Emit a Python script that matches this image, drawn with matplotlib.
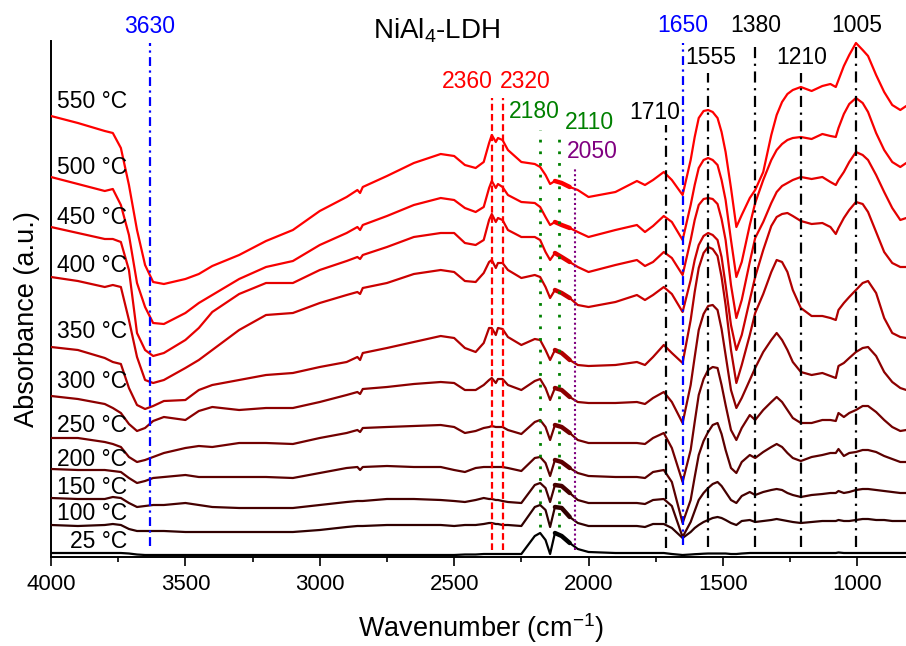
import numpy as np
import matplotlib
matplotlib.use('Agg')
import matplotlib.pyplot as plt

plt.rcParams['font.family'] = ['Liberation Sans', 'DejaVu Sans']
plt.rcParams['mathtext.fontset'] = 'custom'
plt.rcParams['mathtext.rm'] = 'Liberation Sans'
plt.rcParams['mathtext.it'] = 'Liberation Sans:italic'
plt.rcParams['mathtext.bf'] = 'Liberation Sans:bold'

# ---------------- data ----------------
wavenumber = [4000, 3900, 3800, 3770, 3740, 3710, 3680, 3650, 3620, 3580, 3500, 3450, 3400, 3300, 3200,
              3100, 3000, 2900, 2860, 2850, 2840, 2750, 2650, 2550, 2500, 2460, 2420,
              2390, 2370, 2360, 2345, 2337, 2320, 2300, 2250, 2200, 2180, 2160, 2143, 2125, 2100, 2070, 2040, 2000, 1900,
              1820, 1790, 1760, 1720, 1690, 1650, 1620, 1605, 1590, 1572, 1555, 1538, 1520, 1505, 1490, 1470, 1450, 1430, 1400, 1380,
              1350, 1320, 1300, 1280, 1260, 1240, 1210, 1170, 1130, 1100, 1080, 1070, 1050, 1030, 1005, 980, 960, 930, 900, 870, 840, 818]

temperatures = ['25 °C', '100 °C', '150 °C', '200 °C', '250 °C', '300 °C',
                '350 °C', '400 °C', '450 °C', '500 °C', '550 °C']

abs_25 = [4, 4, 4, 4, 4, 3.5, 2.5, 2, 2, 2, 2, 2, 2, 2, 2,
          2, 2, 2, 2, 2, 2, 2, 2, 2, 2, 2.5, 2.5,
          3, 3, 3, 3, 3, 3, 3, 3, 21, 24, 17, 3, 24, 21, 14, 8, 5, 4,
          4, 4, 4, 4, 3, 2, 2.5, 2.8, 3, 3.3, 3.5, 3.5, 3.5, 3.5, 3.5, 3, 3, 3.5, 4, 4,
          4, 4, 4, 4, 4, 4, 4, 4, 4, 4, 4, 4.5, 4, 4, 4, 4, 4, 4, 4, 4, 4, 4]
abs_100 = [32, 31, 32, 33, 32, 28, 26, 26, 26, 26, 25, 25, 25, 25, 25,
           25, 27, 30, 31, 31, 31, 32, 32, 32, 31, 32, 32,
           33, 34, 34, 33, 33, 32, 32, 31, 50, 52, 47, 30, 50, 49, 40, 34, 31, 31,
           31, 30, 33, 33, 29, 19, 25, 29, 32, 35, 37, 39, 40, 39, 37, 34, 32, 36, 37, 35,
           36, 37, 38, 37, 36, 35, 34, 35, 36, 36, 36, 37, 36, 36, 37, 38, 38, 37, 37, 36, 36, 36]
abs_150 = [59, 58, 58, 60, 59, 54, 50, 51, 52, 52, 54, 52, 50, 49, 49,
           49, 52, 55, 56, 56, 56, 58, 58, 57, 56, 55, 57,
           59, 58, 58, 57, 57, 56, 55, 54, 72, 74, 69, 55, 72, 71, 64, 57, 54, 54,
           54, 53, 57, 58, 51, 20, 35, 46, 57, 64, 69, 73, 75, 71, 65, 57, 54, 61, 65, 62,
           65, 67, 68, 67, 64, 62, 60, 62, 63, 64, 64, 66, 64, 65, 67, 68, 68, 67, 66, 65, 64, 64]
abs_200 = [88, 87, 87, 86, 85, 79, 74, 76, 79, 80, 82, 80, 80, 80, 80,
           79, 84, 89, 90, 87, 90, 91, 90, 90, 87, 85, 89,
           90, 90, 90, 90, 90, 90, 89, 86, 99, 100, 94, 81, 97, 95, 89, 84, 81, 80,
           80, 79, 85, 87, 75, 34, 57, 80, 102, 116, 125, 132, 134, 123, 107, 89, 84, 95, 102, 99,
           105, 110, 113, 110, 104, 99, 96, 100, 102, 104, 104, 108, 101, 104, 105, 107, 107, 105, 101, 98, 95, 95]
abs_250 = [119, 119, 115, 113, 110, 100, 95, 97, 100, 104, 109, 111, 110, 114, 114,
           113, 119, 124, 127, 125, 129, 130, 131, 132, 130, 124, 126,
           129, 130, 131, 130, 130, 130, 127, 123, 135, 137, 130, 117, 132, 130, 124, 117, 114, 114,
           114, 113, 119, 124, 109, 75, 107, 135, 162, 178, 187, 190, 189, 172, 152, 127, 117, 129, 142, 137,
           147, 155, 160, 155, 147, 139, 134, 134, 137, 137, 136, 144, 140, 144, 147, 151, 151, 145, 137, 130, 126, 127]
abs_300 = [161, 158, 153, 149, 144, 133, 126, 129, 136, 140, 137, 146, 150, 147, 149,
           149, 155, 162, 165, 163, 168, 170, 173, 175, 174, 167, 167,
           172, 177, 179, 174, 178, 178, 172, 167, 176, 178, 169, 157, 169, 167, 160, 155, 154, 154,
           155, 153, 159, 165, 155, 134, 172, 200, 227, 243, 251, 252, 247, 228, 202, 167, 149, 159, 177, 189,
           205, 217, 224, 217, 207, 195, 185, 182, 184, 181, 179, 191, 194, 199, 205, 209, 210, 201, 185, 175, 169, 167]
abs_350 = [210, 207, 199, 195, 193, 169, 152, 148, 151, 156, 157, 167, 172, 177, 182,
           184, 190, 195, 200, 197, 204, 209, 215, 221, 219, 209, 205,
           214, 229, 229, 222, 229, 228, 220, 212, 218, 217, 207, 197, 207, 204, 197, 192, 191, 192,
           195, 192, 200, 212, 204, 194, 237, 265, 289, 304, 310, 308, 301, 280, 252, 207, 174, 192, 222, 244,
           263, 285, 297, 295, 285, 267, 249, 241, 241, 239, 237, 247, 254, 260, 267, 274, 276, 264, 239, 224, 220, 219]
abs_400 = [280, 276, 270, 272, 270, 237, 200, 177, 174, 177, 189, 197, 207, 227, 242,
           244, 254, 262, 265, 263, 269, 274, 283, 287, 285, 276, 275,
           284, 295, 297, 289, 294, 294, 287, 279, 282, 280, 270, 259, 267, 264, 259, 252, 250, 255,
           262, 257, 262, 270, 263, 245, 277, 297, 312, 321, 324, 322, 317, 300, 272, 232, 207, 222, 257, 280,
           307, 331, 340, 343, 344, 341, 336, 333, 334, 330, 323, 329, 339, 347, 355, 353, 345, 325, 305, 294, 290, 290]
abs_450 = [330, 324, 318, 318, 315, 287, 224, 207, 201, 204, 217, 229, 245, 263, 274,
           274, 287, 296, 300, 298, 302, 310, 320, 324, 324, 314, 312,
           317, 337, 343, 335, 339, 337, 327, 320, 320, 317, 305, 297, 304, 300, 295, 290, 285, 292,
           297, 291, 295, 305, 299, 282, 317, 337, 352, 358, 359, 358, 353, 338, 317, 272, 239, 257, 295, 319,
           335, 354, 365, 371, 374, 377, 380, 378, 380, 375, 372, 377, 385, 395, 405, 402, 397, 382, 365, 349, 337, 339]
abs_500 = [380, 373, 366, 368, 352, 322, 274, 250, 234, 233, 244, 254, 262, 278, 290,
           296, 312, 324, 330, 327, 332, 341, 352, 359, 357, 349, 345,
           350, 369, 376, 369, 373, 370, 362, 355, 354, 350, 340, 332, 335, 332, 329, 325, 320, 327,
           332, 325, 331, 341, 335, 317, 352, 372, 389, 397, 399, 397, 392, 377, 357, 317, 280, 295, 332, 354,
           377, 397, 407, 413, 417, 419, 420, 418, 423, 421, 420, 429, 443, 453, 459, 454, 445, 424, 407, 395, 390, 394]
abs_550 = [441, 434, 426, 424, 409, 372, 327, 292, 275, 273, 278, 283, 291, 302, 316,
           327, 346, 360, 367, 364, 370, 381, 394, 403, 401, 392, 389,
           395, 414, 422, 415, 419, 417, 407, 395, 393, 390, 382, 373, 376, 374, 370, 367, 360, 365,
           376, 372, 377, 385, 377, 362, 397, 420, 439, 446, 447, 445, 439, 425, 405, 369, 330, 342, 359, 367,
           385, 422, 442, 455, 463, 467, 470, 466, 471, 473, 470, 477, 491, 502, 514, 507, 501, 482, 465, 452, 447, 451]

spectra = [abs_25, abs_100, abs_150, abs_200, abs_250, abs_300,
           abs_350, abs_400, abs_450, abs_500, abs_550]

band_positions = [3630, 2360, 2320, 2180, 2110, 2050, 1710, 1650, 1555, 1380, 1210, 1005]
band_labels = ['3630', '2360', '2320', '2180', '2110', '2050', '1710', '1650', '1555', '1380', '1210', '1005']

# ---------------- styles ----------------
colors = ['#000000', '#300000', '#460000', '#5c0000', '#730000', '#8c0000',
          '#b00000', '#cc0000', '#e60000', '#f60000', '#ff0000']
label_y = [15, 43, 70, 98, 131, 175, 225, 292, 340, 390, 456]

dashdot = (0, (5, 2.5, 1, 2.5))
band_style = {
    3630: dict(color='#0000ff', ls=(0, (4, 2, 1, 2)), lw=1.6, y=(11, 514)),
    2360: dict(color='#ff0000', ls=(0, (3, 1.6)), lw=1.6, y=(7, 459)),
    2320: dict(color='#ff0000', ls=(0, (3, 1.6)), lw=1.6, y=(7, 459)),
    2180: dict(color='#008000', ls=(0, (1, 3.2)), lw=2.0, y=(30, 427)),
    2110: dict(color='#008000', ls=(0, (1, 3.2)), lw=2.0, y=(30, 420)),
    2050: dict(color='#800080', ls=(0, (1, 1.3)), lw=1.5, y=(7, 389)),
    1710: dict(color='#000000', ls=dashdot, lw=1.6, y=(9, 432)),
    1650: dict(color='#0000ff', ls=(0, (4, 2, 1, 2)), lw=1.6, y=(12, 514)),
    1555: dict(color='#000000', ls=dashdot, lw=1.6, y=(10, 484)),
    1380: dict(color='#000000', ls=dashdot, lw=1.6, y=(10, 514)),
    1210: dict(color='#000000', ls=dashdot, lw=1.6, y=(10, 484)),
    1005: dict(color='#000000', ls=dashdot, lw=1.6, y=(10, 514)),
}
band_text = {
    3630: ('#0000ff', 3635, 530.5),
    2360: ('#ff0000', 2452, 475),
    2320: ('#ff0000', 2234, 475),
    2180: ('#008000', 2203, 445),
    2110: ('#008000', 1996, 434.5),
    2050: ('#800080', 1985, 406),
    1710: ('#000000', 1755, 444.5),
    1650: ('#0000ff', 1648, 531),
    1555: ('#000000', 1544, 500),
    1380: ('#000000', 1379, 531),
    1210: ('#000000', 1208, 500),
    1005: ('#000000', 1001, 531),
}

# ---------------- figure ----------------
W, H = 906, 646
fig = plt.figure(figsize=(W / 100, H / 100), dpi=100)
ax = fig.add_axes([51 / W, 89 / H, 855 / W, 516 / H])

wn = np.array(wavenumber)
fuzz = (wn <= 2125) & (wn >= 2070)
for spec, col in zip(spectra, colors):
    sp = np.array(spec, dtype=float)
    ax.plot(wn, sp, color=col, lw=1.6, solid_joinstyle='round', solid_capstyle='round', zorder=3)
    # gas-phase rotational fine structure drawn as a thicker stroke
    ax.plot(wn[fuzz], sp[fuzz], color=col, lw=3.2, solid_capstyle='round', zorder=3)

for pos, lab in zip(band_positions, band_labels):
    st = band_style[pos]
    ax.plot([pos, pos], list(st['y']), color=st['color'], ls=st['ls'], lw=st['lw'],
            zorder=4, clip_on=False)
    c, tx, ty = band_text[pos]
    ax.text(tx, ty, lab, color=c, fontsize=16.5, ha='center', va='center', clip_on=False, zorder=5)

for t, yy in zip(temperatures, label_y):
    ax.text(3717, yy, t, fontsize=16.5, ha='right', va='center', zorder=5)

ax.text(2567, 526, 'NiAl$_4$-LDH', fontsize=20, ha='center', va='center', clip_on=False)

ax.set_xlim(4000, 818.8)
ax.set_ylim(0, 516)
ax.set_xticks([4000, 3500, 3000, 2500, 2000, 1500, 1000])
ax.set_xticks([3750, 3250, 2750, 2250, 1750, 1250], minor=True)
ax.set_yticks([])
ax.tick_params(axis='x', which='major', direction='out', length=6.5, width=1.2,
               labelsize=16, pad=6)
ax.tick_params(axis='x', which='minor', direction='out', length=3.3, width=1.2)
for s in ['top', 'right']:
    ax.spines[s].set_visible(False)
for s in ['left', 'bottom']:
    ax.spines[s].set_linewidth(1.4)

fig.text(481 / W, 1 - 628 / H, 'Wavenumber (cm$^{-1}$)', fontsize=19.5, ha='center', va='center')
fig.text(27 / W, 1 - 319 / H, 'Absorbance (a.u.)', fontsize=19.5, ha='center', va='center',
         rotation=90)

fig.savefig('out.png', dpi=100)
